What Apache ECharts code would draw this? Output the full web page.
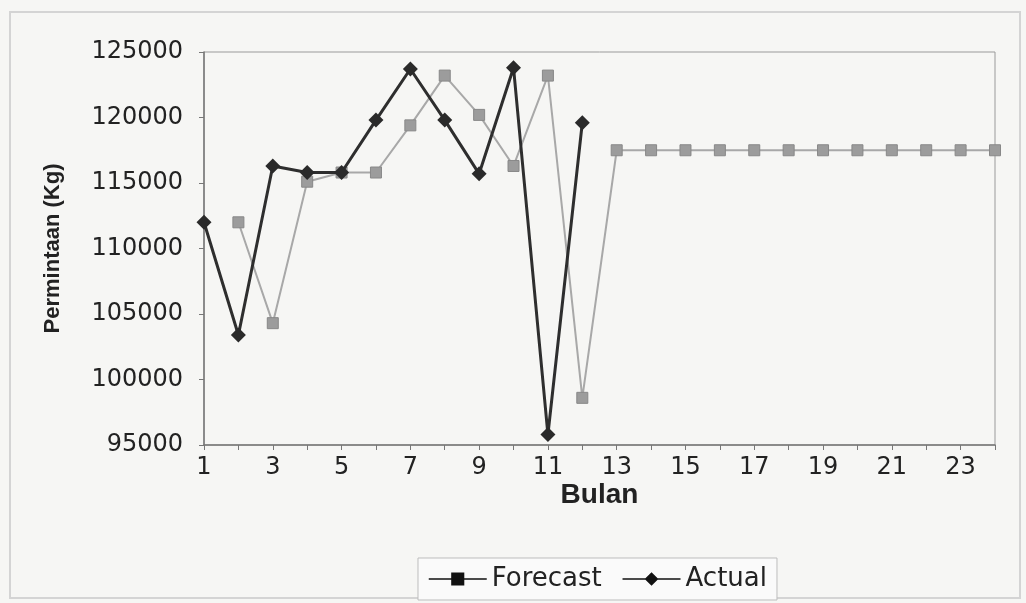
<!DOCTYPE html>
<html>
<head>
<meta charset="utf-8">
<script src="https://cdn.jsdelivr.net/npm/echarts@6/dist/echarts.min.js"></script>
<style>
  html, body { margin: 0; padding: 0; background: #f6f6f4; }
  #chart { width: 1026px; height: 603px; }
</style>
</head>
<body>
<div id="chart"></div>
<script>
// bulan 1..24
const months = Array.from({ length: 24 }, (_, i) => String(i + 1))

const actual = [112000, 103400, 116300, 115800, 115800, 119800, 123700, 119800, 115700, 123800, 95800, 119600]

const forecast = [null, 112000, 104300, 115100, 115800, 115800, 119400, 123200, 120200, 116300, 123200, 98600,
  117500, 117500, 117500, 117500, 117500, 117500, 117500, 117500, 117500, 117500, 117500, 117500]

const font = 'Liberation Sans, Arial, sans-serif'
const numFont = 'DejaVu Sans, sans-serif'

const chart = echarts.init(document.getElementById('chart'))

chart.setOption({
  backgroundColor: '#f6f6f4',
  animation: false,
  graphic: [{
    type: 'rect',
    shape: { x: 10, y: 12, width: 1010, height: 586 },
    style: { fill: 'none', stroke: '#d4d4d4', lineWidth: 2 },
    silent: true
  }],
  grid: {
    left: 204, right: 31, top: 52, bottom: 158,
    show: true, borderColor: '#9a9a9a', borderWidth: 1, backgroundColor: 'transparent'
  },
  legend: {
    top: 558,
    left: 418,
    itemGap: 20,
    itemWidth: 58,
    itemHeight: 12,
    padding: [8, 10],
    borderColor: '#bdbdbd',
    borderWidth: 1,
    backgroundColor: '#fafafa',
    textStyle: { fontFamily: numFont, fontSize: 26, color: '#222' },
    data: [
      { name: 'Forecast', icon: 'path://M0,5L40,5M16,1H24V9H16Z', itemStyle: { color: '#111', borderColor: '#111', borderWidth: 1.5 } },
      { name: 'Actual', icon: 'path://M0,5L40,5M20,1L24,5L20,9L16,5Z', itemStyle: { color: '#111', borderColor: '#111', borderWidth: 1.5 } }
    ]
  },
  xAxis: {
    type: 'category',
    data: months,
    boundaryGap: false,
    name: 'Bulan',
    nameLocation: 'middle',
    nameGap: 36,
    nameMoveOverlap: false,
    nameTextStyle: { fontFamily: font, fontSize: 28, fontWeight: 'bold', color: '#222' },
    axisLine: { lineStyle: { color: '#777', width: 1.5 } },
    axisTick: { show: true, interval: 0, length: 5, inside: false, lineStyle: { color: '#777' } },
    axisLabel: { interval: 1, margin: 11, fontFamily: numFont, fontSize: 24, color: '#222' },
    splitLine: { show: false }
  },
  yAxis: {
    type: 'value',
    min: 95000,
    max: 125000,
    interval: 5000,
    name: 'Permintaan (Kg)',
    nameLocation: 'middle',
    nameGap: 140,
    nameMoveOverlap: false,
    nameTextStyle: { fontFamily: font, fontSize: 22, fontWeight: 'bold', color: '#222' },
    axisLine: { show: true, lineStyle: { color: '#777', width: 1.5 } },
    axisTick: { show: true, length: 5, lineStyle: { color: '#777' } },
    axisLabel: { margin: 21, fontFamily: numFont, fontSize: 24, color: '#222', formatter: v => String(v) },
    splitLine: { show: false }
  },
  series: [
    {
      name: 'Forecast',
      type: 'line',
      data: forecast,
      symbol: 'rect',
      symbolSize: 11,
      lineStyle: { color: '#a8a8a8', width: 2 },
      itemStyle: { color: '#9c9c9c', borderColor: '#888', borderWidth: 1 },
      z: 2
    },
    {
      name: 'Actual',
      type: 'line',
      data: actual,
      symbol: 'diamond',
      symbolSize: 15,
      lineStyle: { color: '#2e2e2e', width: 3 },
      itemStyle: { color: '#2a2a2a' },
      z: 3
    }
  ]
})
</script>
</body>
</html>
